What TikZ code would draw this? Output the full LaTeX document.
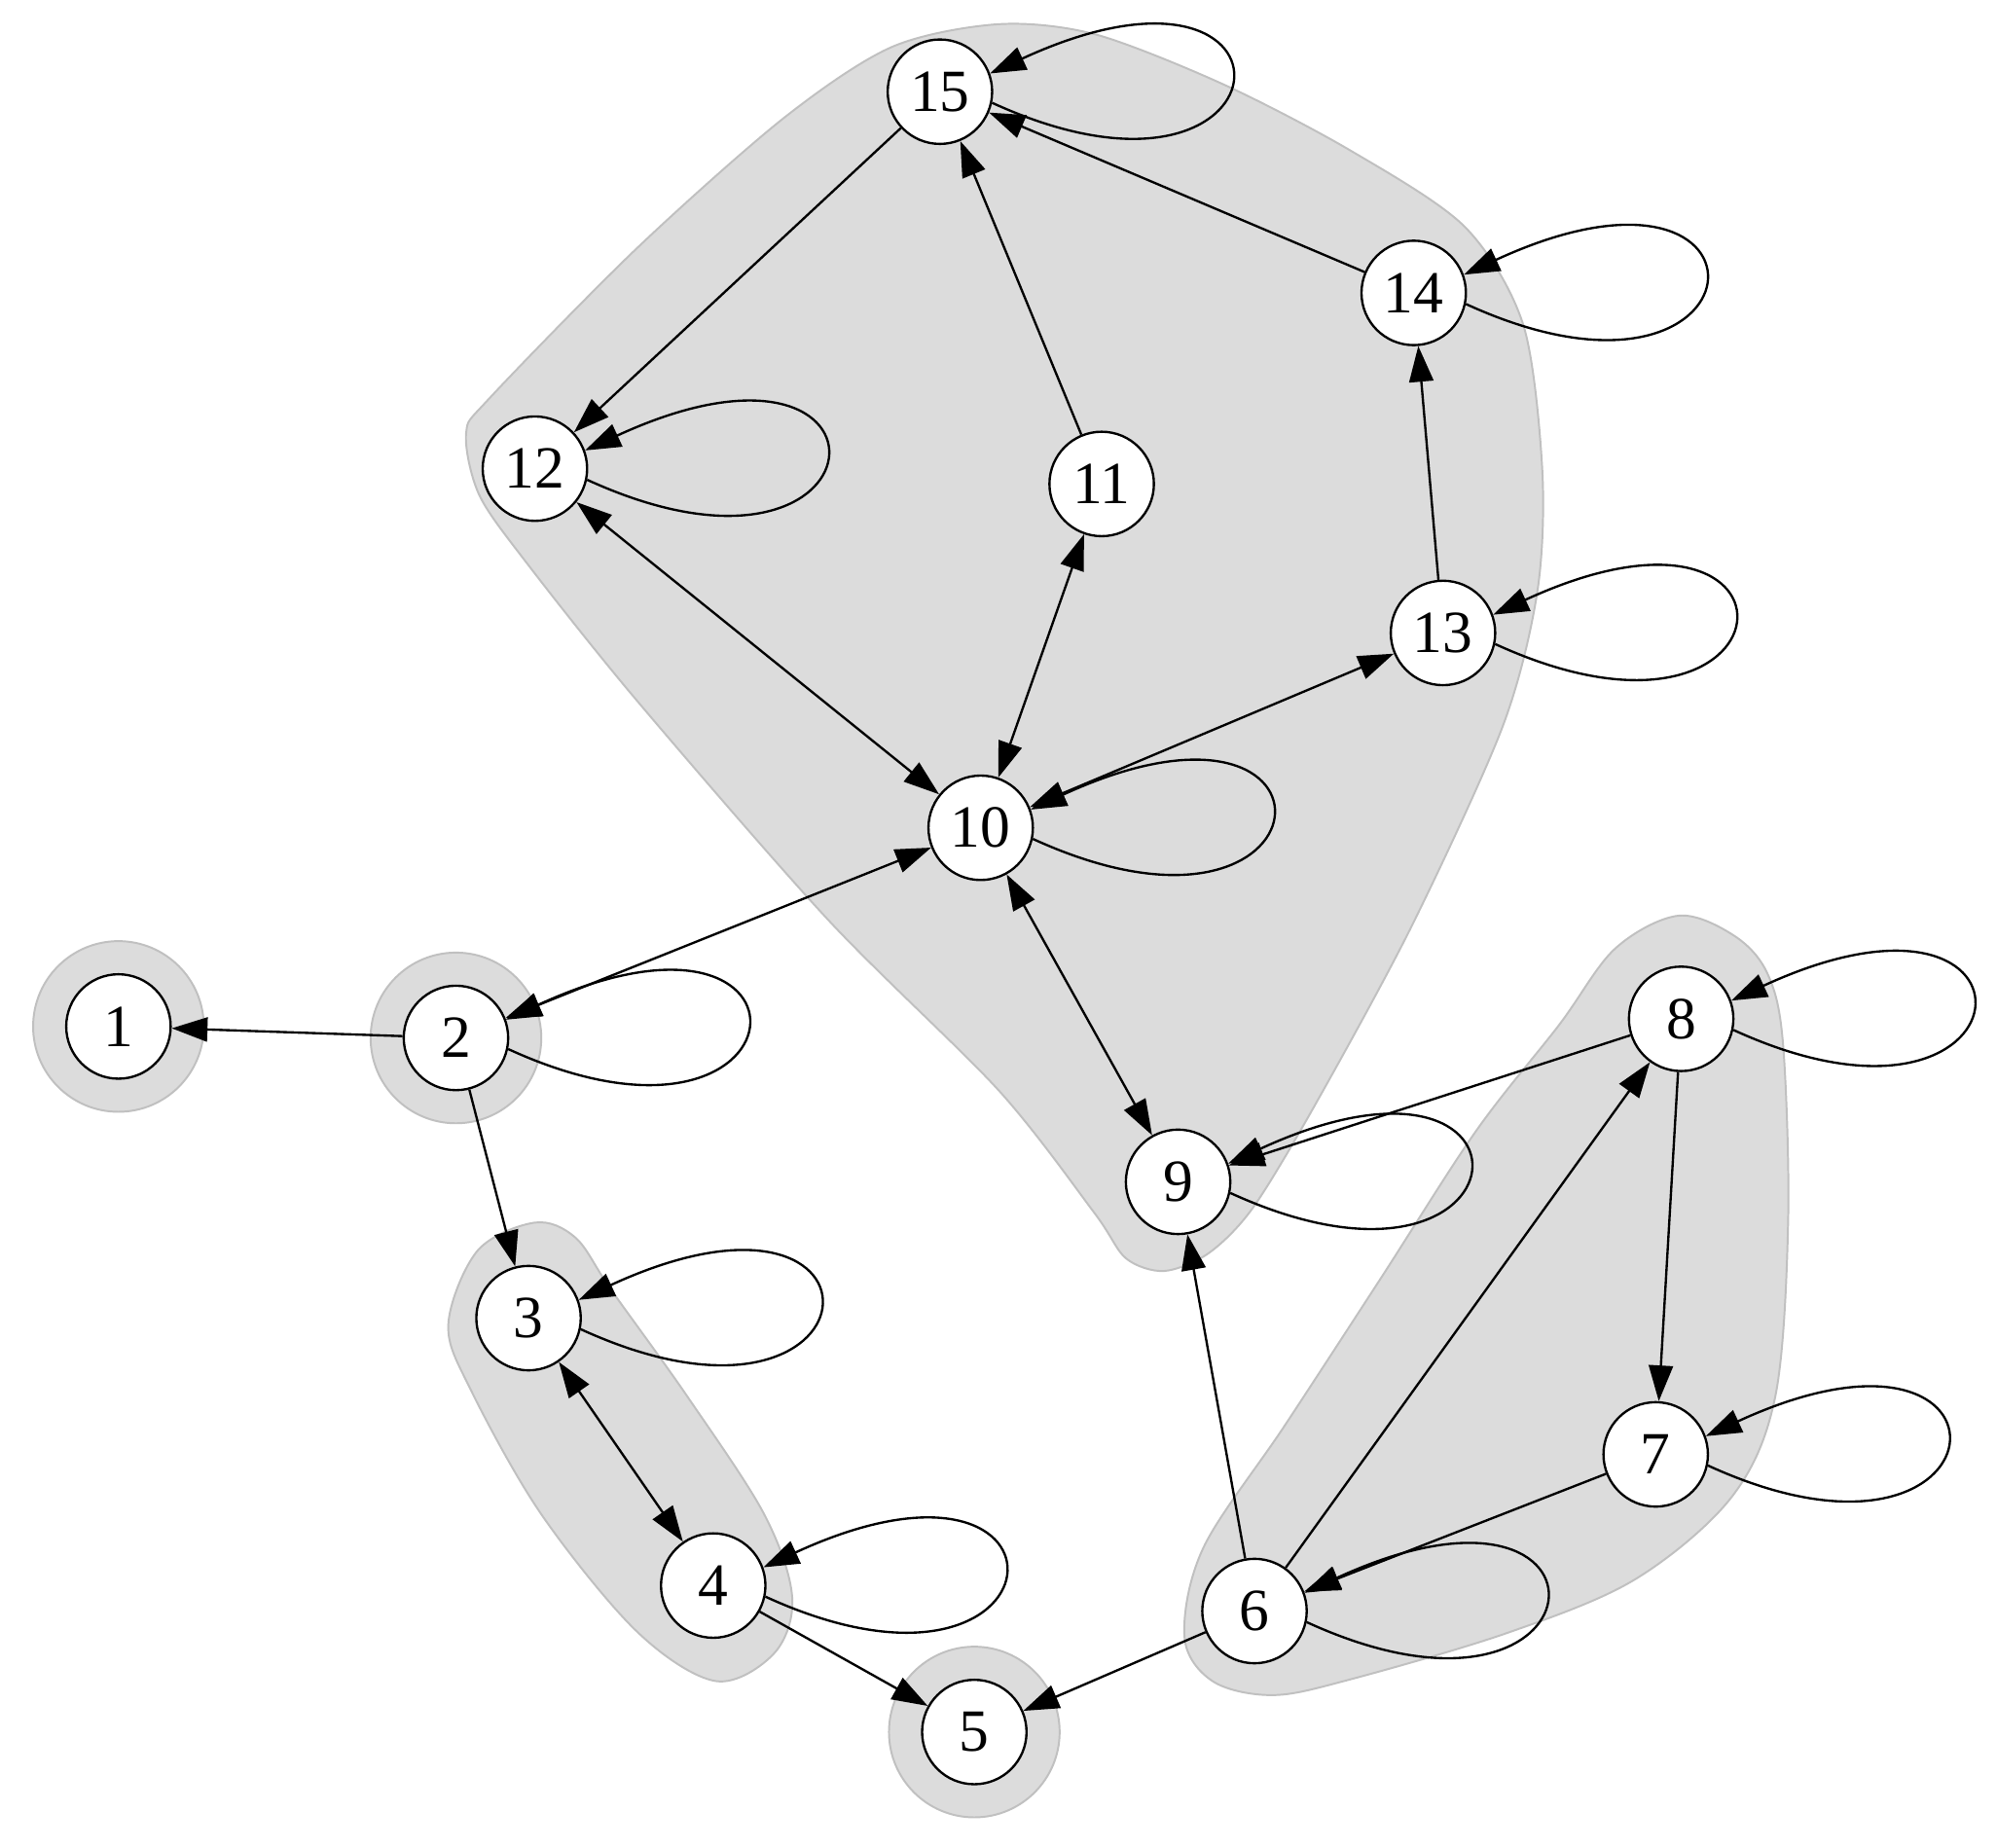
\documentclass[tikz,border=0pt]{standalone}
\usepackage{fontspec}
\setmainfont{Liberation Serif}
\usetikzlibrary{arrows.meta}
\definecolor{hullfill}{RGB}{220,220,220}
\definecolor{hullline}{RGB}{192,192,192}
\begin{document}
\begin{tikzpicture}[x=1pt,y=-1pt,
  vtx/.style={circle,draw=black,fill=white,line width=1.8pt,minimum size=82pt,inner sep=0pt,font=\fontsize{47}{50}\selectfont},
  tip/.tip={Triangle[length=28pt,width=19pt]},
  edge/.style={line width=1.8pt,-tip},
  bi/.style={line width=1.8pt,tip-tip},
  hull/.style={fill=hullfill,draw=hullline,line width=1.5pt},
  selfloop/.style={edge}
]
\fill[white] (0,0) rectangle (1568,1451);
\useasboundingbox (0,0) rectangle (1568,1451);

% cluster hulls
\filldraw[hull] plot[smooth cycle, tension=0.5] coordinates {
 (784,19) (860,27) (960,66) (1060,118) (1150,178) (1196,255) (1211,370) (1207,465)
 (1180,570) (1109,726) (1034,865) (984,948) (949,984) (914,998) (884,988) (859,952)
 (784,856) (650,722) (500,550) (412,440) (376,388) (366,340) (385,312) (500,195)
 (615,93) (700,37)};
\filldraw[hull] plot[smooth cycle, tension=0.55] coordinates {
 (1318,719) (1362,735) (1388,765) (1400,820) (1404,958) (1394,1096) (1360,1175)
 (1284,1240) (1184,1282) (1059,1319) (999,1331) (952,1320) (930,1285) (945,1215)
 (1009,1119) (1084,1004) (1159,888) (1224,805) (1268,745)};
\filldraw[hull] plot[smooth cycle, tension=0.55] coordinates {
 (420,960) (375,982) (352,1040) (370,1092) (425,1189) (500,1281) (562,1320)
 (608,1298) (622,1254) (600,1189) (540,1097) (480,1013) (452,972)};
\filldraw[hull] (93,806) circle[radius=67pt];
\filldraw[hull] (358,815) circle[radius=67pt];
\filldraw[hull] (765,1360) circle[radius=67pt];

% vertices
\node[vtx] (n1) at (93,806) {1};
\node[vtx] (n2) at (358,815) {2};
\node[vtx] (n3) at (415,1035) {3};
\node[vtx] (n4) at (560,1245) {4};
\node[vtx] (n5) at (765,1360) {5};
\node[vtx] (n6) at (985,1265) {6};
\node[vtx] (n7) at (1300,1142) {7};
\node[vtx] (n8) at (1320,800) {8};
\node[vtx] (n9) at (925,928) {9};
\node[vtx] (n10) at (770,650) {10};
\node[vtx] (n11) at (865,380) {11};
\node[vtx] (n12) at (420,368) {12};
\node[vtx] (n13) at (1133,497) {13};
\node[vtx] (n14) at (1110,230) {14};
\node[vtx] (n15) at (738,72) {15};

% edges
\draw[edge] (n2) -- (n1);
\draw[edge] (n2) -- (n3);
\draw[bi] (n2) -- (n10);
\draw[bi] (n3) -- (n4);
\draw[edge] (n4) -- (n5);
\draw[edge] (n6) -- (n5);
\draw[edge] (n6) -- (n9);
\draw[edge] (n6) -- (n8);
\draw[edge] (n8) -- (n7);
\draw[edge] (n7) -- (n6);
\draw[edge] (n8) -- (n9);
\draw[bi] (n10) -- (n9);
\draw[bi] (n10) -- (n12);
\draw[bi] (n10) -- (n11);
\draw[bi] (n10) -- (n13);
\draw[edge] (n11) -- (n15);
\draw[edge] (n15) -- (n12);
\draw[edge] (n14) -- (n15);
\draw[edge] (n13) -- (n14);

% self loops
\foreach \v in {2,3,4,6,7,8,9,10,12,13,14,15}{
  \draw[selfloop] (n\v.-12) .. controls +(240,110) and +(260,-120) .. (n\v.20);
}
\end{tikzpicture}
\end{document}
